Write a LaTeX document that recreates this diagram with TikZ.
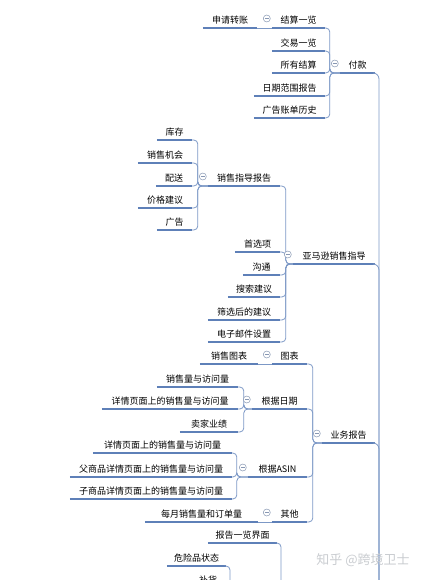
\documentclass[tikz,border=0pt]{standalone}
\usepackage{fontspec}
\setmainfont{Noto Sans CJK SC}
\definecolor{lineblue}{HTML}{5E80B8}
\definecolor{linklight}{HTML}{7C98C6}
\definecolor{foldgray}{HTML}{8797B3}
\definecolor{wmgray}{HTML}{C9CCD0}
\begin{document}
\begin{tikzpicture}[
    x=1pt, y=-1pt,
    topic/.style={anchor=south, inner xsep=0pt, inner ysep=3.5pt, text height=7.6pt, text depth=1.2pt, font=\fontsize{9}{10}\selectfont},
    uline/.style={draw=lineblue, line width=1.5pt},
    link/.style={draw=linklight, line width=0.8pt, rounded corners=4pt},
    fold/.style={circle, draw=foldgray, fill=white, line width=0.5pt, minimum size=7pt, inner sep=0pt,
        path picture={\draw[foldgray, line width=0.6pt] ([xshift=-2pt]path picture bounding box.center) -- ([xshift=2pt]path picture bounding box.center);}},
    wmtext/.style={font=\fontsize{13}{14}\selectfont, text=wmgray}
]
    \useasboundingbox (0,0) rectangle (422,580);
    \clip (0,0) rectangle (422,580);
    % topics: name/left/right/underline y/text
    \foreach \n/\l/\r/\y/\t in {
        fk/340/375/73/付款, jsyl/272/325/28/结算一览, sqzz/203/257/28/申请转账,
        jyyl/272/325/51/交易一览, syjs/272/325/73/所有结算,
        rqfw/254/325/96/日期范围报告, ggzd/254/325/118/广告账单历史,
        amz/293/375/264/亚马逊销售指导, xszd/208/280/186/销售指导报告,
        kc/157/192/140/库存, xsjh/138/192/163/销售机会, ps/156/192/186/配送,
        jgjy/138/192/208/价格建议, gg/157/192/230/广告,
        sxx/235/280/252/首选项, gt/243/280/275/沟通, ssjy/228/280/297/搜索建议,
        sxhjy/208/280/320/筛选后的建议, dzyj/208/280/342/电子邮件设置,
        ywbg/322/375/443/业务报告, tb/272/307/364/图表, xstb/200/258/364/销售图表,
        rqrq/252/307/409/根据日期, asin/248/307/477/根据ASIN, qt/272/307/522/其他,
        xslfw/157/238/387/销售量与访问量, xqfw/102/238/409/详情页面上的销售量与访问量,
        mjyj/180/238/432/卖家业绩,
        xqa/93/232/453/详情页面上的销售量与访问量, fsp/70/232/477/父商品详情页面上的销售量与访问量,
        zsp/70/232/499/子商品详情页面上的销售量与访问量,
        myxs/145/258/522/每月销售量和订单量,
        bglj/208/277/543/报告一览界面, wxp/167/226/566/危险品状态, bh/190/226/588/补货} {
        \pgfmathsetmacro\cx{(\l+\r)/2}
        \node[topic, minimum width=\r-\l] (\n) at (\cx, \y) {\t};
        \draw[uline] (\n.south west) -- (\n.south east);
    }
    % off-page parents
    \coordinate (root) at (379, 660);
    \coordinate (bgP) at (281, 660);
    \coordinate (wxP) at (230, 660);
    \foreach \p in {fk, amz, ywbg} {
        \draw[link, rounded corners=6pt] (\p.south east) -| (root);
    }
    \draw[link] (bglj.south east) -| (bgP);
    \draw[link] (wxp.south east) -| (wxP);
    \draw[link] (bh.south east) -| (wxP);
    % brace links: parent/spine offset/children
    \foreach \p/\d/\cs in {
        fk/10/{jsyl,jyyl,syjs,rqfw,ggzd},
        amz/7/{xszd,sxx,gt,ssjy,sxhjy,dzyj},
        xszd/10/{kc,xsjh,ps,jgjy,gg},
        ywbg/9/{tb,rqrq,asin,qt},
        rqrq/8/{xslfw,xqfw,mjyj},
        asin/11/{xqa,fsp,zsp}} {
        \foreach \c in \cs {
            \draw[link] (\p.south west) -- ++(-\d,0) |- (\c.south east);
        }
    }
    \foreach \p/\c in {jsyl/sqzz, tb/xstb, qt/myxs} {
        \draw[link] (\p.south west) -- (\c.south east);
    }
    % fold markers
    \foreach \p in {fk, jsyl, amz, xszd, ywbg, tb, rqrq, asin, qt} {
        \node[fold] (m\p) at ([xshift=-5pt, yshift=9.5pt]\p.south west) {};
    }
    \node[wmtext] (wm) at (363, 560) {知乎 @跨境卫士};
\end{tikzpicture}
\end{document}
